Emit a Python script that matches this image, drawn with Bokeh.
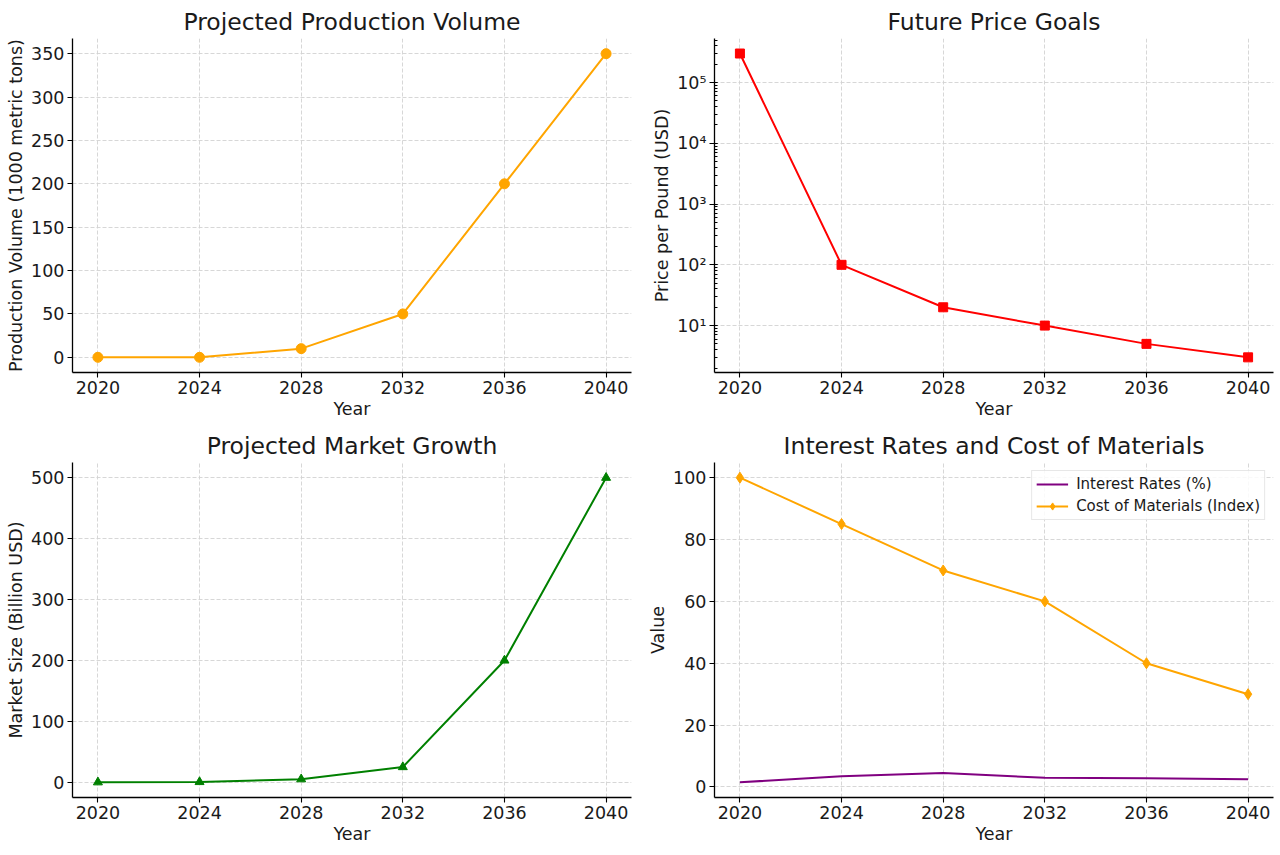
from bokeh.plotting import figure
from bokeh.layouts import gridplot
from bokeh.models import Range1d, FixedTicker, LogTicker, CustomJSTickFormatter, Legend, LegendItem
from bokeh.embed import file_html
from bokeh.resources import INLINE

# ---- data ----
years = [2020, 2024, 2028, 2032, 2036, 2040]
production = [0, 0, 10, 50, 200, 350]          # 1000 metric tons
price = [300000, 100, 20, 10, 5, 3]             # USD per pound
market = [0, 0.5, 5, 25, 200, 500]              # billion USD
interest_rates = [1.5, 3.5, 4.5, 3.0, 2.8, 2.5] # %
material_cost = [100, 85, 70, 60, 40, 30]       # index

FONT = "DejaVu Sans"
GRID = "#d2d2d2"


def make_fig(title, ylabel, y_range, border, y_axis_type="linear", height=425):
    left, right, top, bottom = border
    p = figure(width=640, height=height, output_backend="svg", toolbar_location=None,
               x_range=Range1d(2019, 2041), y_range=y_range, y_axis_type=y_axis_type,
               min_border_left=left, min_border_right=right,
               min_border_top=top, min_border_bottom=bottom)
    p.outline_line_color = None
    p.background_fill_color = "white"
    p.border_fill_color = "white"

    p.title.text = title
    p.title.text_font = FONT
    p.title.text_font_size = "23.5px"
    p.title.text_font_style = "normal"
    p.title.text_color = "#1a1a1a"
    p.title.align = "center"
    p.title.standoff = 6

    p.xaxis.ticker = FixedTicker(ticks=years)
    p.xaxis.axis_label = "Year"
    p.yaxis.axis_label = ylabel
    for ax in (p.xaxis[0], p.yaxis[0]):
        ax.axis_label_text_font = FONT
        ax.axis_label_text_font_size = "17.5px"
        ax.axis_label_text_font_style = "normal"
        ax.axis_label_text_color = "#1a1a1a"
        ax.major_label_text_font = FONT
        ax.major_label_text_font_size = "17.5px"
        ax.major_label_text_color = "#1a1a1a"
        ax.axis_line_color = "black"
        ax.axis_line_width = 1.3
        ax.major_tick_line_color = "black"
        ax.major_tick_line_width = 1.1
        ax.major_tick_out = 5
        ax.major_tick_in = 0
        ax.minor_tick_line_color = None
        ax.major_label_standoff = 3
        ax.axis_label_standoff = 2

    for g in (p.xgrid[0], p.ygrid[0]):
        g.grid_line_color = GRID
        g.grid_line_dash = "4 2"
        g.grid_line_width = 0.9
    return p


# ---- Projected Production Volume ----
p1 = make_fig("Projected Production Volume", "Production Volume (1000 metric tons)",
              Range1d(-17.5, 367.5), (72, 9, 38, 53))
p1.yaxis.ticker = FixedTicker(ticks=[0, 50, 100, 150, 200, 250, 300, 350])
p1.line(years, production, line_color="orange", line_width=2)
p1.scatter(years, production, marker="circle", size=10, fill_color="orange", line_color="orange")

# ---- Future Price Goals (log scale) ----
p2 = make_fig("Future Price Goals", "Price per Pound (USD)",
              Range1d(1.69, 5.3e5), (74, 7, 38, 53), y_axis_type="log")
p2.yaxis.ticker = LogTicker(desired_num_ticks=6, num_minor_ticks=10)
p2.yaxis.formatter = CustomJSTickFormatter(code="""
    const sup = {"0":"\u2070","1":"\u00b9","2":"\u00b2","3":"\u00b3","4":"\u2074",
                 "5":"\u2075","6":"\u2076","7":"\u2077","8":"\u2078","9":"\u2079","-":"\u207b"};
    const e = Math.round(Math.log10(tick));
    return "10" + String(e).split("").map(c => sup[c]).join("");
""")
p2.yaxis.minor_tick_line_color = "black"
p2.yaxis.minor_tick_in = 3
p2.yaxis.minor_tick_out = 0
p2.line(years, price, line_color="red", line_width=2)
p2.scatter(years, price, marker="square", size=9, fill_color="red", line_color="red")

# ---- Projected Market Growth ----
p3 = make_fig("Projected Market Growth", "Market Size (Billion USD)",
              Range1d(-25, 525), (72, 9, 37, 58), height=430)
p3.yaxis.ticker = FixedTicker(ticks=[0, 100, 200, 300, 400, 500])
p3.line(years, market, line_color="green", line_width=2)
p3.scatter(years, market, marker="triangle", size=9, fill_color="green", line_color="green")

# ---- Interest Rates and Cost of Materials ----
p4 = make_fig("Interest Rates and Cost of Materials", "Value",
              Range1d(-3.4, 104.9), (74, 7, 37, 58), height=430)
p4.yaxis.ticker = FixedTicker(ticks=[0, 20, 40, 60, 80, 100])
r_ir = p4.line(years, interest_rates, line_color="purple", line_width=2)
r_mc = p4.line(years, material_cost, line_color="orange", line_width=2)
r_mc_pts = p4.scatter(years, material_cost, marker="diamond", size=11,
                      fill_color="orange", line_color="orange")
legend = Legend(items=[
    LegendItem(label="Interest Rates (%)", renderers=[r_ir]),
    LegendItem(label="Cost of Materials (Index)", renderers=[r_mc, r_mc_pts]),
], location="top_right")
legend.label_text_font = FONT
legend.label_text_font_size = "15px"
legend.label_text_color = "#1a1a1a"
legend.border_line_color = "#d0d0d0"
legend.border_line_width = 1
legend.background_fill_alpha = 0.85
legend.glyph_width = 32
legend.glyph_height = 18
legend.label_height = 18
legend.spacing = 4
legend.padding = 4
legend.margin = 8
legend.label_standoff = 8
p4.add_layout(legend)

grid = gridplot([[p1, p2], [p3, p4]], toolbar_location=None)

open("out.html", "w").write(file_html(grid, INLINE))
